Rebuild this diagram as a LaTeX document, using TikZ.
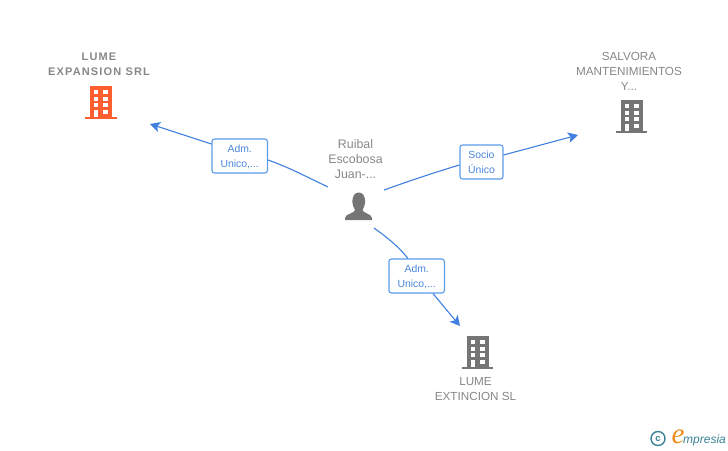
\documentclass[tikz,border=0pt]{standalone}
\usepackage{fontspec}
\setmainfont{Liberation Sans}
\newfontfamily\logofont{Liberation Serif}
\newfontfamily\trackedbold[LetterSpace=10.5]{Liberation Sans Bold}
\usetikzlibrary{arrows.meta}
\definecolor{edgeblue}{HTML}{3F7FE0}
\definecolor{boxblue}{HTML}{5C9BEA}
\definecolor{labelblue}{HTML}{4A86DC}
\definecolor{greytxt}{HTML}{878787}
\definecolor{icongrey}{HTML}{757575}
\definecolor{iconorange}{HTML}{FF5F2E}
\definecolor{logoteal}{HTML}{3A8295}
\definecolor{logoorange}{HTML}{F08A1C}
\tikzset{
  x=1pt,y=-1pt,
  capslabel/.style={text=greytxt,align=center,inner sep=0pt,font=\fontsize{11.7}{15}\selectfont},
  boldlabel/.style={capslabel,font=\trackedbold\fontsize{11}{15}\selectfont},
  personlabel/.style={text=greytxt,align=center,inner sep=0pt,font=\fontsize{12.4}{15}\selectfont},
  relbox/.style={draw=boxblue,line width=1.1pt,rounded corners=2.5pt,fill=white,text=labelblue,
    align=center,inner sep=0pt,text depth=0pt,font=\fontsize{10.4}{15}\selectfont},
  flow/.style={draw=edgeblue,line width=1.1pt},
  flowarrow/.style={flow,-{Stealth[length=10pt,width=10.5pt,inset=2.5pt]}},
  pics/building/.style={code={
    \fill[#1] (-11,-16.3) rectangle (11,15);
    \fill[#1] (-15.7,14.7) rectangle (15.7,17.3);
    \foreach \yy in {-12,-4.7,1.3}{
      \fill[white] (-7,\yy) rectangle (-2.6,\yy+4);
      \fill[white] (2.4,\yy) rectangle (7,\yy+4);
    }
    \fill[white] (-7,7.7) rectangle (-2.6,14.7);
    \fill[white] (2.4,7.7) rectangle (7,12);
  }},
}
\begin{document}
\begin{tikzpicture}
\useasboundingbox (0,0) rectangle (728,450);
% icons
\pic at (101,102) {building=iconorange};
\pic at (631.5,116) {building=icongrey};
\pic at (477.5,352) {building=icongrey};
\fill[icongrey] (352.5,203) .. controls (352,195.5) and (355,192.5) .. (358.7,192.5)
  .. controls (362.5,192.5) and (365.5,195.5) .. (365,203)
  .. controls (364.8,206) and (363.5,208) .. (362.5,210)
  .. controls (362.5,213) and (372,214) .. (372,218) -- (372,220) -- (345,220) -- (345,218)
  .. controls (345,214) and (355,213) .. (355,210)
  .. controls (354,208) and (352.7,206) .. (352.5,203) -- cycle;
% labels
\node[boldlabel] (lumeexp) at (99,64) {LUME\\EXPANSION SRL};
\node[capslabel] (salvora) at (629,71) {SALVORA\\MANTENIMIENTOS\\Y...};
\node[capslabel] (lumeext) at (475.5,389.5) {LUME\\EXTINCION SL};
\node[personlabel] (ruibal) at (355.5,159) {Ruibal\\Escobosa\\Juan-...};
% connector ends
\coordinate (pl) at (328,187);
\coordinate (pr) at (384,190);
\coordinate (pb) at (374,228);
\coordinate (tl) at (150,124);
\coordinate (tr) at (578,135);
\coordinate (tb) at (460,326);
% relation boxes
\node[relbox,minimum width=55.5pt,minimum height=34pt] (bl) at (239.7,156) {\raisebox{-1pt}{Adm.}\\\raisebox{-1pt}{Unico,...}};
\node[relbox,minimum width=43pt,minimum height=34pt] (br) at (481.5,162) {\raisebox{-1pt}{Socio}\\\raisebox{-1pt}{Único}};
\node[relbox,minimum width=55.5pt,minimum height=34pt] (bb) at (416.7,276) {\raisebox{-1pt}{Adm.}\\\raisebox{-1pt}{Unico,...}};
% connectors
\draw[flow] (pl) .. controls (305,176) and (288,167) .. (bl.east |- 0,160);
\draw[flowarrow] (bl.west |- 0,144) -- (tl);
\draw[flow] (pr) .. controls (412,180) and (436,172) .. (br.west |- 0,165);
\draw[flowarrow] (br.east |- 0,155) -- (tr);
\draw[flow] (pb) .. controls (388,238) and (399,247) .. (bb.north -| 408,0);
\draw[flowarrow] (bb.south -| 433,0) -- (tb);
% logo
\node[circle,draw=logoteal,line width=1.4pt,minimum size=14pt,inner sep=0pt,text=logoteal,font=\bfseries\fontsize{9.5}{9.5}\selectfont] (copy) at (658,438.5) {c};
\node[text=logoorange,inner sep=0pt,font=\logofont\itshape\fontsize{29}{29}\selectfont] (logoe) at (678,437) {e};
\node[text=logoteal,inner sep=0pt,anchor=west,font=\itshape\fontsize{12}{14}\selectfont] (logotxt) at (683,440) {mpresia};
\end{tikzpicture}
\end{document}
